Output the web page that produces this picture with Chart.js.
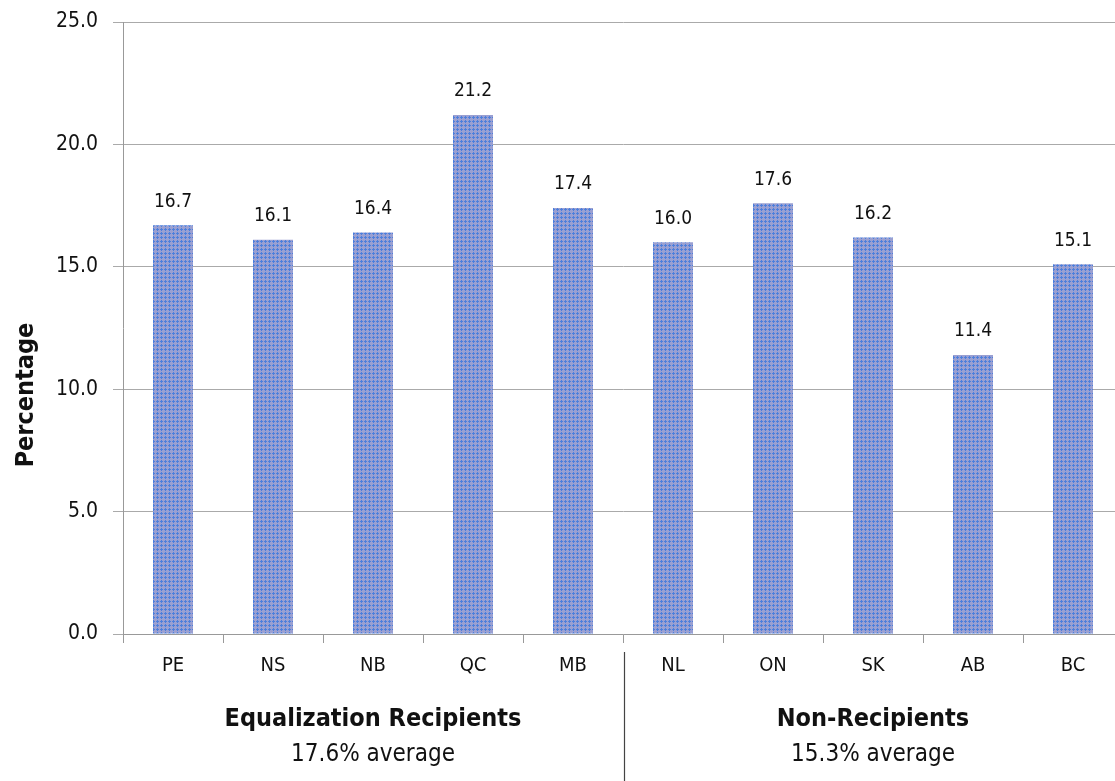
<!DOCTYPE html>
<html>
<head>
<meta charset="utf-8">
<script src="https://cdn.jsdelivr.net/npm/chart.js@4.4.0/dist/chart.umd.min.js"></script>
<style>
  html, body { margin: 0; padding: 0; background: #fff; overflow: hidden; }
  #wrap { width: 1125px; height: 781px; position: relative; }
</style>
</head>
<body>
<div id="wrap"><canvas id="grafico"></canvas></div>
<script>
// dados do grafico
const provincias = ['PE', 'NS', 'NB', 'QC', 'MB', 'NL', 'ON', 'SK', 'AB', 'BC'];
const percentuais = [16.7, 16.1, 16.4, 21.2, 17.4, 16.0, 17.6, 16.2, 11.4, 15.1];
const grupos = ['Equalization Recipients', 'Non-Recipients'];
const mediasGrupo = ['17.6% average', '15.3% average'];
const tamanhoGrupo = [5, 5];
const ticksY = [0, 5, 10, 15, 20, 25];

const fonte = '"Liberation Sans Narrow", "DejaVu Sans Condensed", sans-serif';

// padrao de cruzes azuis sobre fundo lilas
function criarPadrao() {
    const c = document.createElement('canvas');
    c.width = 4; c.height = 4;
    const g = c.getContext('2d');
    g.fillStyle = '#9aa0d2';
    g.fillRect(0, 0, 4, 4);
    g.fillStyle = '#4d7fdc';
    g.fillRect(1, 0, 1, 3);
    g.fillRect(0, 1, 3, 1);
    return g.createPattern(c, 'repeat');
}

const rotulosValores = {
    id: 'rotulosValores',
    afterDatasetsDraw(chart) {
        const ctx = chart.ctx;
        const meta = chart.getDatasetMeta(0);
        ctx.save();
        ctx.font = '19px ' + fonte;
        ctx.fillStyle = '#111';
        ctx.textAlign = 'center';
        ctx.textBaseline = 'bottom';
        meta.data.forEach((bar, i) => {
            ctx.fillText(percentuais[i].toFixed(1), bar.x, bar.y - 14);
        });
        ctx.restore();
    }
};

const gruposEixo = {
    id: 'gruposEixo',
    afterDraw(chart) {
        const ctx = chart.ctx;
        const x = chart.scales.x;
        ctx.save();
        ctx.fillStyle = '#111';
        ctx.textAlign = 'center';
        let inicio = 0;
        grupos.forEach((nome, g) => {
            const fim = inicio + tamanhoGrupo[g] - 1;
            const cx = (x.getPixelForValue(inicio) + x.getPixelForValue(fim)) / 2;
            ctx.font = 'bold 25px ' + fonte;
            ctx.textBaseline = 'middle';
            ctx.fillText(nome, cx, 719);
            ctx.font = '24px ' + fonte;
            ctx.fillText(mediasGrupo[g], cx, 755);
            inicio = fim + 1;
        });
        // linha separadora entre grupos
        const sx = (x.getPixelForValue(tamanhoGrupo[0] - 1) + x.getPixelForValue(tamanhoGrupo[0])) / 2;
        ctx.strokeStyle = '#444';
        ctx.lineWidth = 1.2;
        ctx.beginPath();
        ctx.moveTo(Math.round(sx) + 1.5, 652);
        ctx.lineTo(Math.round(sx) + 1.5, 781);
        ctx.stroke();
        // titulo do eixo y
        ctx.translate(26, 395);
        ctx.rotate(-Math.PI / 2);
        ctx.font = 'bold 25px ' + fonte;
        ctx.textBaseline = 'middle';
        ctx.fillText('Percentage', 0, 0);
        ctx.restore();
    }
};

new Chart(document.getElementById('grafico'), {
    type: 'bar',
    data: {
        labels: provincias,
        datasets: [{
            data: percentuais,
            backgroundColor: criarPadrao(),
            categoryPercentage: 1,
            barPercentage: 0.4
        }]
    },
    options: {
        responsive: true,
        maintainAspectRatio: false,
        animation: false,
        layout: { padding: { top: 22, right: 2, left: 0, bottom: 0 } },
        plugins: {
            legend: { display: false },
            tooltip: { enabled: false }
        },
        scales: {
            x: {
                grid: {
                    drawOnChartArea: false,
                    offset: true,
                    tickLength: 9,
                    color: '#999'
                },
                border: { color: '#999' },
                ticks: {
                    color: '#111',
                    font: { family: fonte, size: 20 },
                    padding: 11
                },
                afterFit(scale) {
                    scale.height = 147;
                    scale.paddingLeft = 0;
                    scale.paddingRight = 0;
                }
            },
            y: {
                min: 0,
                max: 25,
                afterBuildTicks(scale) {
                    scale.ticks = ticksY.map(v => ({ value: v }));
                },
                grid: { color: '#aaa', tickLength: 10 },
                border: { color: '#999' },
                ticks: {
                    color: '#111',
                    font: { family: fonte, size: 21 },
                    padding: 15,
                    callback: v => v.toFixed(1)
                },
                afterFit(scale) {
                    scale.width = 123;
                    scale.paddingTop = 0;
                    scale.paddingBottom = 0;
                }
            }
        }
    },
    plugins: [rotulosValores, gruposEixo]
});
</script>
</body>
</html>
